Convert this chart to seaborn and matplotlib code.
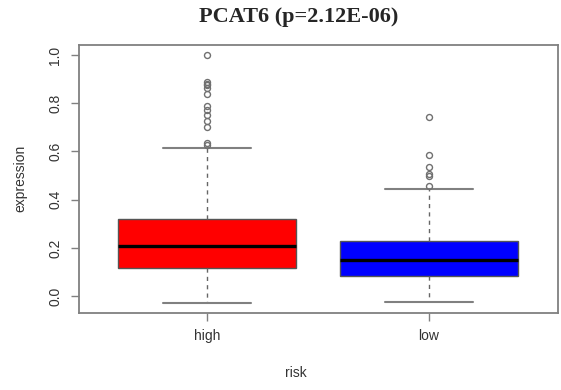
import numpy as np
import pandas as pd
import seaborn as sns
import matplotlib.pyplot as plt

# box summary (high risk, low risk)
groups = ["high", "low"]
whisker_low = [-0.028, -0.024]
q1 = [0.115, 0.084]
medians = [0.209, 0.148]
q3 = [0.318, 0.230]
whisker_high = [0.613, 0.445]
outliers_high = [0.625, 0.635, 0.700, 0.725, 0.750, 0.770, 0.790,
                 0.840, 0.865, 0.875, 0.880, 0.890, 1.000]
outliers_low = [0.455, 0.498, 0.505, 0.534, 0.584, 0.741]
box_colors = ["#FF0000", "#0000FF"]

# build a sample per group whose quartiles/whiskers equal the values above
rows = []
for g, lo, a, m, b, hi, out in zip(groups, whisker_low, q1, medians, q3,
                                   whisker_high, [outliers_high, outliers_low]):
    k = len(out) + 1
    vals = [lo] + [a] * k + [m] * k + [b] * k + [hi] + out
    rows += [(g, v) for v in vals]
df = pd.DataFrame(rows, columns=["risk", "expression"])

sns.set_theme(style="white")
plt.rcParams["font.family"] = ["Liberation Sans", "DejaVu Sans"]

fig = plt.figure(figsize=(5.61, 3.90), dpi=100)
ax = fig.add_axes([79 / 561, 1 - 312.7 / 390, 479 / 561, 268 / 390])

gray = "#808080"
sns.boxplot(data=df, x="risk", y="expression", hue="risk", palette=box_colors,
            saturation=1, width=0.8, legend=False, ax=ax, linewidth=1,
            boxprops=dict(edgecolor="#555555", linewidth=1),
            medianprops=dict(color="black", linewidth=2.4, solid_capstyle="butt"),
            whiskerprops=dict(color="#666666", linestyle=(0, (3, 3)), linewidth=1),
            capprops=dict(color=gray, linewidth=1.5),
            flierprops=dict(marker="o", markerfacecolor="none",
                            markeredgecolor="#707070", markersize=4.3,
                            markeredgewidth=1))

ax.set_xlim(-0.577, 1.581)
ax.set_ylim(-0.069, 1.043)
ax.set_yticks([0.0, 0.2, 0.4, 0.6, 0.8, 1.0])
ax.set_yticklabels(["0.0", "0.2", "0.4", "0.6", "0.8", "1.0"],
                   rotation=90, va="center")
ax.tick_params(axis="both", direction="out", length=6, width=1, color=gray,
               labelsize=10, labelcolor="#333333", pad=6,
               left=True, bottom=True)
for s in ax.spines.values():
    s.set_color(gray)
    s.set_linewidth(1.3)

ax.set_xlabel("risk", fontsize=10, color="#333333")
ax.xaxis.set_label_coords((296 - 79) / 479, (312.7 - 373) / 268)
ax.xaxis.label.set_va("center")
ax.set_ylabel("expression", fontsize=10, color="#333333")
ax.yaxis.set_label_coords((20 - 79) / 479, 0.5)
ax.yaxis.label.set_va("center")

fig.text(299 / 561, 1 - 17 / 390, "PCAT6 (p=2.12E-06)", ha="center", va="center",
         fontsize=16, fontweight="bold", family=["Liberation Serif", "DejaVu Serif"])

fig.savefig("out.png", dpi=100)
